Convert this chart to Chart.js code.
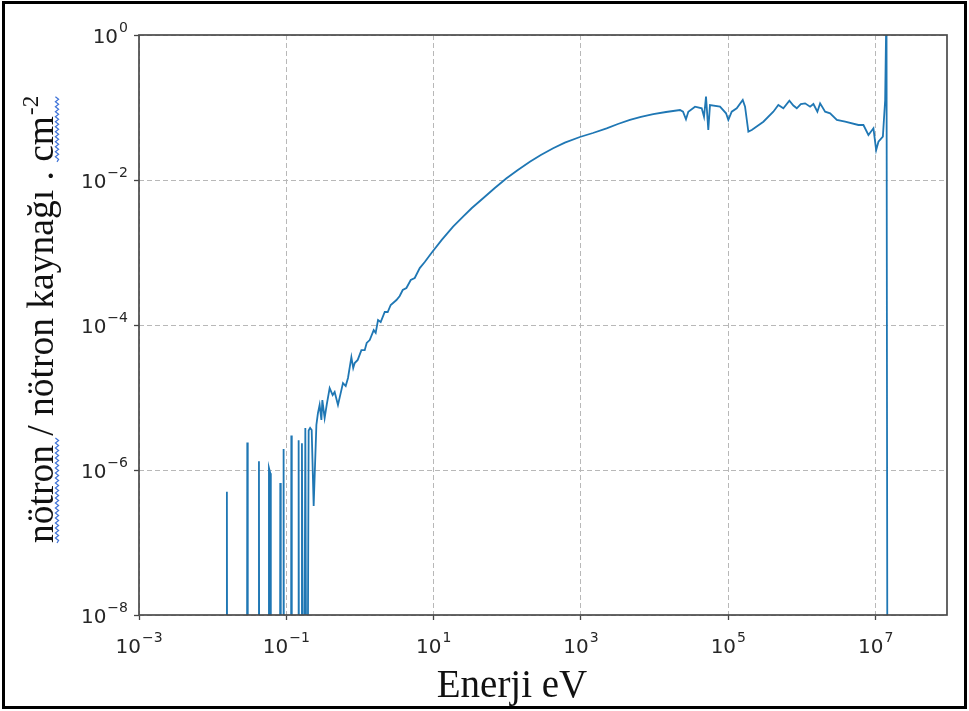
<!DOCTYPE html>
<html>
<head>
<meta charset="utf-8">
<script src="https://cdn.jsdelivr.net/npm/chart.js@4.4.1/dist/chart.umd.min.js"></script>
<style>
  html, body { margin: 0; padding: 0; background: #fff; }
  #wrap { width: 969px; height: 711px; }
</style>
</head>
<body>
<div id="wrap"><canvas id="spectrum" width="969" height="711"></canvas></div>
<script>
// === Dados (energia em eV, fluxo por nêutron da fonte) ===
// 1e-12 = fluxo nulo (fica abaixo do eixo, como no original)
const energyEv = [
  0.01537, 0.01560, 0.01583,
  0.02907, 0.02951, 0.02995,
  0.04186, 0.04249, 0.04313,
  0.05721, 0.05808, 0.06067, 0.06158,
  0.08155, 0.08279, 0.08403,
  0.09045, 0.09183, 0.09321,
  0.1152, 0.1169, 0.1186,
  0.1447, 0.1469, 0.1495, 0.1600, 0.1629, 0.1718,
  0.1811, 0.1905, 0.2009, 0.2104, 0.2208, 0.2350, 0.2559, 0.2685, 0.2831,
  0.2992, 0.3083, 0.3311, 0.3532, 0.3873, 0.4256, 0.4529, 0.5023, 0.5875,
  0.6397, 0.6871, 0.7638, 0.8091, 0.8472, 0.9312, 1.045, 1.159, 1.233,
  1.355, 1.535, 1.633, 1.757, 1.910, 2.167, 2.377, 2.612, 3.126, 3.461,
  3.802, 4.266, 4.887, 5.534, 6.471, 7.568, 9.333, 12.88, 18.35, 25.06,
  33.0, 46.9, 67.6, 97.5, 139, 202.3, 285, 418.8, 604, 966, 1452, 2228,
  3170, 4613, 6516, 9572, 14260, 22080, 24270, 26610,
  28640, 35320, 43550, 46770, 49780, 53460, 56360, 77090, 93100, 100000,
  111200, 130000, 157000, 168700, 187100, 208000, 299200, 408300, 477500,
  558500, 674500, 763800, 849300, 963800, 1.102e6, 1.288e6, 1.429e6,
  1.618e6, 1.762e6, 2.061e6, 2.410e6, 2.972e6, 3.855e6, 5.834e6, 6.823e6,
  7.98e6, 9.33e6, 1.016e7, 1.091e7, 1.253e7, 1.346e7, 1.403e7, 1.455e7
];
const fluxPerSource = [
  1e-12, 5.0e-7, 1e-12,
  1e-12, 2.4e-6, 1e-12,
  1e-12, 1.32e-6, 1e-12,
  1e-12, 1.07e-6, 9.0e-7, 1e-12,
  1e-12, 6.6e-7, 1e-12,
  1e-12, 1.95e-6, 1e-12,
  1e-12, 3.0e-6, 1e-12,
  1e-12, 2.57e-6, 1e-12, 1e-12, 2.34e-6, 1e-12,
  3.8e-6, 1e-12, 3.5e-6, 3.8e-6, 3.56e-6, 3.2e-7, 4.2e-6, 6.1e-6, 7.9e-6,
  4.9e-6, 9.2e-6, 5.2e-6, 7.9e-6, 1.35e-5, 1.08e-5, 1.19e-5, 7.9e-6, 1.58e-5,
  1.44e-5, 1.86e-5, 3.6e-5, 2.55e-5, 2.99e-5, 3.3e-5, 4.5e-5, 4.5e-5, 5.65e-5,
  6.2e-5, 8.5e-5, 7.8e-5, 1.17e-4, 1.1e-4, 1.51e-4, 1.51e-4, 1.89e-4, 2.21e-4, 2.51e-4,
  3.04e-4, 3.24e-4, 4.18e-4, 4.45e-4, 6.1e-4, 7.4e-4, 9.85e-4, 1.49e-3, 2.27e-3, 3.12e-3,
  4.11e-3, 5.6e-3, 7.76e-3, 1.055e-2, 1.374e-2, 1.79e-2, 2.21e-2, 2.74e-2, 3.28e-2, 3.92e-2, 4.45e-2, 5.16e-2,
  5.92e-2, 6.73e-2, 7.4e-2, 8.13e-2, 8.67e-2, 9.24e-2, 8.75e-2, 6.88e-2,
  8.75e-2, 0.1026, 0.0975, 0.0746, 0.141, 0.049, 0.108, 0.1026, 0.0832, 0.0673,
  0.0875, 0.0975, 0.127, 0.1026, 0.0464, 0.049, 0.0637, 0.0875, 0.108,
  0.0975, 0.124, 0.1066, 0.0975, 0.1117, 0.114, 0.1026, 0.1117,
  0.0875, 0.114, 0.0875, 0.0832, 0.0673, 0.0637, 0.0574, 0.0574,
  0.0418, 0.0516, 0.0259, 0.0337, 0.0396, 0.127, 3.0, 1e-12
];
const xTickValues = [1e-3, 1e-1, 1e1, 1e3, 1e5, 1e7];
const xTickExponents = ['−3', '−1', '1', '3', '5', '7'];
const yTickValues = [1e-8, 1e-6, 1e-4, 1e-2, 1];
const yTickExponents = ['−8', '−6', '−4', '−2', '0'];
const xTitle = 'Enerji eV';
const yTitle = 'nötron / nötron kaynağı . cm';
const yTitleSup = '-2';

// === Moldura, rótulos, títulos e sublinhados ===
const serif = '"Liberation Serif", "Times New Roman", serif';
const sans = '"DejaVu Sans", sans-serif';

function squiggle(ctx, x, y1, y2) {
  ctx.beginPath();
  let side = 1;
  ctx.moveTo(x, y2);
  for (let y = y2; y > y1; y -= 2.5) {
    ctx.lineTo(x + side * 1.6, y - 2.5);
    side = -side;
  }
  ctx.stroke();
}

// "10" + expoente, ancorado à esquerda em (x, base)
function powerLabel(ctx, exp, x, base) {
  ctx.font = '20px ' + sans;
  ctx.fillText('10', x, base);
  const w10 = ctx.measureText('10').width;
  ctx.font = '14px ' + sans;
  ctx.fillText(exp, x + w10 + 1, base - 11);
}
function powerWidth(ctx, exp) {
  ctx.font = '20px ' + sans;
  const w10 = ctx.measureText('10').width;
  ctx.font = '14px ' + sans;
  return w10 + 1 + ctx.measureText(exp).width;
}

const decorPlugin = {
  id: 'decor',
  beforeDraw(chart) {
    const ctx = chart.ctx;
    ctx.save();
    ctx.fillStyle = '#fff';
    ctx.fillRect(0, 0, chart.width, chart.height);
    ctx.restore();
  },
  afterDraw(chart) {
    const { ctx, chartArea: a, scales } = chart;
    ctx.save();
    // moldura dos eixos
    ctx.strokeStyle = '#4a4a4a';
    ctx.lineWidth = 1.7;
    ctx.strokeRect(a.left, a.top, a.right - a.left, a.bottom - a.top);

    // borda externa
    ctx.strokeStyle = '#000';
    ctx.lineWidth = 3;
    ctx.strokeRect(3.5, 2.5, 962, 705);

    // rótulos dos ticks
    ctx.fillStyle = '#262626';
    ctx.textAlign = 'left';
    ctx.textBaseline = 'alphabetic';
    xTickValues.forEach((v, i) => {
      const px = scales.x.getPixelForValue(v);
      const w = powerWidth(ctx, xTickExponents[i]);
      powerLabel(ctx, xTickExponents[i], px - w / 2, a.bottom + 38);
    });
    yTickValues.forEach((v, i) => {
      const py = scales.y.getPixelForValue(v);
      const w = powerWidth(ctx, yTickExponents[i]);
      powerLabel(ctx, yTickExponents[i], a.left - 11 - w, py + 8);
    });

    // título do eixo x
    ctx.fillStyle = '#111';
    ctx.font = '39px ' + serif;
    ctx.textAlign = 'center';
    ctx.fillText(xTitle, 512, 697);

    // título do eixo y (rotacionado)
    ctx.font = '37.5px ' + serif;
    ctx.translate(53, 543);
    ctx.rotate(-Math.PI / 2);
    ctx.textAlign = 'left';
    ctx.fillText(yTitle, 0, 0);
    const w = ctx.measureText(yTitle).width;
    const wFirst = ctx.measureText('nötron').width;
    const wCm = ctx.measureText('cm').width;
    ctx.font = '23px ' + serif;
    ctx.fillText(yTitleSup, w + 1, -15);
    const wSup = ctx.measureText(yTitleSup).width;

    // sublinhado ondulado (corretor ortográfico)
    ctx.strokeStyle = '#3f73d8';
    ctx.lineWidth = 1.2;
    ctx.rotate(Math.PI / 2);
    squiggle(ctx, 4, -wFirst - 6, 0);
    squiggle(ctx, 4, -(w + wSup), -(w - wCm));
    ctx.restore();
  }
};

// === Gráfico ===
const points = energyEv.map((e, i) => ({ x: e, y: fluxPerSource[i] }));
const gridOpts = {
  color: '#b8b8b8',
  lineWidth: 1,
  tickLength: 5,
  tickColor: '#444',
  tickWidth: 1.3,
  tickBorderDash: []
};

new Chart(document.getElementById('spectrum').getContext('2d'), {
  type: 'line',
  data: {
    datasets: [{
      data: points,
      borderColor: '#1f77b4',
      borderWidth: 1.8,
      pointRadius: 0,
      tension: 0,
      fill: false
    }]
  },
  options: {
    responsive: false,
    animation: false,
    devicePixelRatio: 1,
    layout: { padding: { top: 35, right: 22, left: 0, bottom: 0 } },
    plugins: { legend: { display: false }, tooltip: { enabled: false } },
    scales: {
      x: {
        type: 'logarithmic',
        position: 'bottom',
        min: 1e-3,
        max: 9.3e7,
        afterBuildTicks: s => { s.ticks = xTickValues.map(v => ({ value: v })); },
        afterFit: s => { s.height = 96; },
        ticks: { display: false, autoSkip: false },
        grid: gridOpts,
        border: { display: false, dash: [5, 3] }
      },
      y: {
        type: 'logarithmic',
        position: 'left',
        min: 1e-8,
        max: 1,
        afterBuildTicks: s => { s.ticks = yTickValues.map(v => ({ value: v })); },
        afterFit: s => { s.width = 139; },
        ticks: { display: false, autoSkip: false },
        grid: gridOpts,
        border: { display: false, dash: [5, 3] }
      }
    }
  },
  plugins: [decorPlugin]
});
</script>
</body>
</html>
